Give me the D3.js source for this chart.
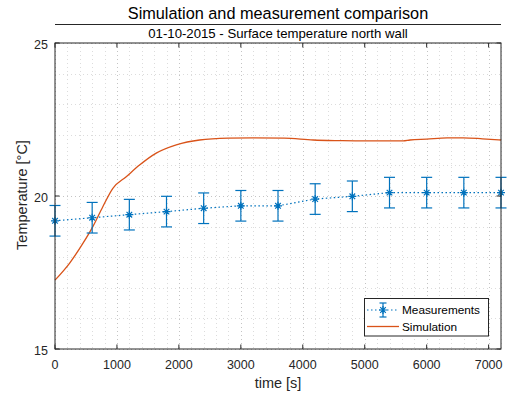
<!DOCTYPE html>
<html><head><meta charset="utf-8">
<script src="https://cdn.jsdelivr.net/npm/d3@7"></script>
<style>
body{margin:0;background:#fff;}
svg{display:block;font-family:"Liberation Sans",Arial,Helvetica,sans-serif;}
</style></head>
<body>
<svg id="c" width="508" height="398"></svg>
<script>
const measTime = [0,600,1200,1800,2400,3000,3600,4200,4800,5400,6000,6600,7200];
const measTemp = [19.19,19.29,19.39,19.49,19.60,19.68,19.68,19.90,19.99,20.11,20.11,20.11,20.11];
const measErr  = [0.5,0.5,0.5,0.5,0.5,0.5,0.5,0.5,0.5,0.5,0.5,0.5,0.5];
const simTime = [0,234,450,611,772,934,1150,1365,1634,1958,2334,2800,3200,3700,4170,4600,5000,5620,5730,6000,6330,6590,6900,7200];
const simTemp = [17.25,17.80,18.45,19.00,19.65,20.25,20.63,21.01,21.40,21.67,21.83,21.89,21.90,21.89,21.83,21.81,21.80,21.80,21.83,21.86,21.90,21.90,21.87,21.83];
const xTicks = [0,1000,2000,3000,4000,5000,6000,7000];
const yTicks = [15,20,25];
const xMinor = d3.range(0,7201,200);
const yMinor = d3.range(15,25.01,1);

const svg = d3.select("#c");
const L=55,R=501,T=43,B=349;
const x = d3.scaleLinear().domain([0,7200]).range([L,R]);
const y = d3.scaleLinear().domain([15,25]).range([B,T]);
const axc="#262626";

// grid
const g = svg.append("g");
g.selectAll(".vx").data(xMinor).join("line")
  .attr("x1",d=>Math.round(x(d))+0.5).attr("x2",d=>Math.round(x(d))+0.5).attr("y1",T).attr("y2",B)
  .attr("stroke",d=>d%1000===0?"#c4c4c4":"#dcdcdc").attr("stroke-width",1).attr("stroke-dasharray","1,3");
g.selectAll(".hy").data(yMinor).join("line")
  .attr("y1",d=>Math.round(y(d))+0.5).attr("y2",d=>Math.round(y(d))+0.5).attr("x1",L).attr("x2",R)
  .attr("stroke",d=>d%5===0?"#c4c4c4":"#dcdcdc").attr("stroke-width",1).attr("stroke-dasharray","1,3");

// simulation line
svg.append("path").datum(simTime.map((t,i)=>[t,simTemp[i]]))
  .attr("d",d3.line().x(d=>x(d[0])).y(d=>y(d[1])).curve(d3.curveMonotoneX))
  .attr("fill","none").attr("stroke","#D95319").attr("stroke-width",1.3);

// measurements
const blue="#0072BD";
const meas = measTime.map((t,i)=>({t,v:measTemp[i],e:measErr[i]}));
svg.append("path").datum(meas)
  .attr("d",d3.line().x(d=>x(d.t)).y(d=>y(d.v)))
  .attr("fill","none").attr("stroke",blue).attr("stroke-width",1.2).attr("stroke-dasharray","1.5,2.5");
const star=(cx,cy,r)=>`M${cx-r},${cy}H${cx+r}M${cx},${cy-r}V${cy+r}M${cx-r*0.7},${cy-r*0.7}L${cx+r*0.7},${cy+r*0.7}M${cx-r*0.7},${cy+r*0.7}L${cx+r*0.7},${cy-r*0.7}`;
const eb = svg.append("g").attr("stroke",blue).attr("stroke-width",1.2).attr("fill","none");
meas.forEach(d=>{
  const cx=x(d.t), y1=y(d.v+d.e), y2=y(d.v-d.e);
  eb.append("line").attr("x1",cx).attr("x2",cx).attr("y1",y1).attr("y2",y2);
  eb.append("line").attr("x1",cx-5.5).attr("x2",cx+5.5).attr("y1",y1).attr("y2",y1);
  eb.append("line").attr("x1",cx-5.5).attr("x2",cx+5.5).attr("y1",y2).attr("y2",y2);
  eb.append("path").attr("d",star(cx,y(d.v),4));
});

// axes box
svg.append("rect").attr("x",L).attr("y",T).attr("width",R-L).attr("height",B-T)
  .attr("fill","none").attr("stroke",axc).attr("stroke-width",1);
const tl=4.5;
const tk=svg.append("g").attr("stroke",axc).attr("stroke-width",1);
xTicks.forEach(t=>{
  tk.append("line").attr("x1",x(t)).attr("x2",x(t)).attr("y1",B).attr("y2",B-tl);
  tk.append("line").attr("x1",x(t)).attr("x2",x(t)).attr("y1",T).attr("y2",T+tl);
});
yTicks.forEach(t=>{
  tk.append("line").attr("x1",L).attr("x2",L+tl).attr("y1",y(t)).attr("y2",y(t));
  tk.append("line").attr("x1",R).attr("x2",R-tl).attr("y1",y(t)).attr("y2",y(t));
});
svg.selectAll(".xl").data(xTicks).join("text")
  .attr("x",d=>x(d)).attr("y",B+20).attr("text-anchor","middle")
  .attr("font-size",12.5).attr("fill",axc).text(d=>d);
svg.selectAll(".yl").data(yTicks).join("text")
  .attr("x",L-7).attr("y",d=>y(d)+5.5).attr("text-anchor","end")
  .attr("font-size",12.5).attr("fill",axc).text(d=>d);

// labels
svg.append("text").attr("x",278).attr("y",388).attr("text-anchor","middle")
  .attr("font-size",14.5).attr("fill",axc).text("time [s]");
svg.append("text").attr("transform","translate(27,195) rotate(-90)").attr("text-anchor","middle")
  .attr("font-size",14.5).attr("fill",axc).text("Temperature [°C]");
svg.append("text").attr("x",278).attr("y",19).attr("text-anchor","middle")
  .attr("font-size",16.3).attr("fill","#000").text("Simulation and measurement comparison");
svg.append("line").attr("x1",L).attr("x2",R).attr("y1",24.5).attr("y2",24.5).attr("stroke",axc).attr("stroke-width",1);
svg.append("text").attr("x",278).attr("y",38).attr("text-anchor","middle")
  .attr("font-size",13.2).attr("fill","#000").text("01-10-2015 - Surface temperature north wall");

// legend
const lg=svg.append("g");
lg.append("rect").attr("x",364.5).attr("y",298.5).attr("width",124).attr("height",37.5)
  .attr("fill","#fff").attr("stroke",axc).attr("stroke-width",1);
const ly1=310, ly2=326.5, lx=383;
lg.append("line").attr("x1",367).attr("x2",399).attr("y1",ly1).attr("y2",ly1)
  .attr("stroke",blue).attr("stroke-width",1.2).attr("stroke-dasharray","1.5,2.5");
lg.append("line").attr("x1",lx).attr("x2",lx).attr("y1",ly1-7).attr("y2",ly1+7).attr("stroke",blue).attr("stroke-width",1.2);
lg.append("line").attr("x1",lx-3.5).attr("x2",lx+3.5).attr("y1",ly1-7).attr("y2",ly1-7).attr("stroke",blue).attr("stroke-width",1.2);
lg.append("line").attr("x1",lx-3.5).attr("x2",lx+3.5).attr("y1",ly1+7).attr("y2",ly1+7).attr("stroke",blue).attr("stroke-width",1.2);
lg.append("path").attr("d",star(lx,ly1,4)).attr("stroke",blue).attr("stroke-width",1.2);
lg.append("line").attr("x1",367).attr("x2",399).attr("y1",ly2).attr("y2",ly2).attr("stroke","#D95319").attr("stroke-width",1.3);
lg.append("text").attr("x",402).attr("y",ly1+4.3).attr("font-size",11.8).attr("fill","#000").text("Measurements");
lg.append("text").attr("x",402).attr("y",ly2+4.3).attr("font-size",11.8).attr("fill","#000").text("Simulation");
</script>
</body></html>
